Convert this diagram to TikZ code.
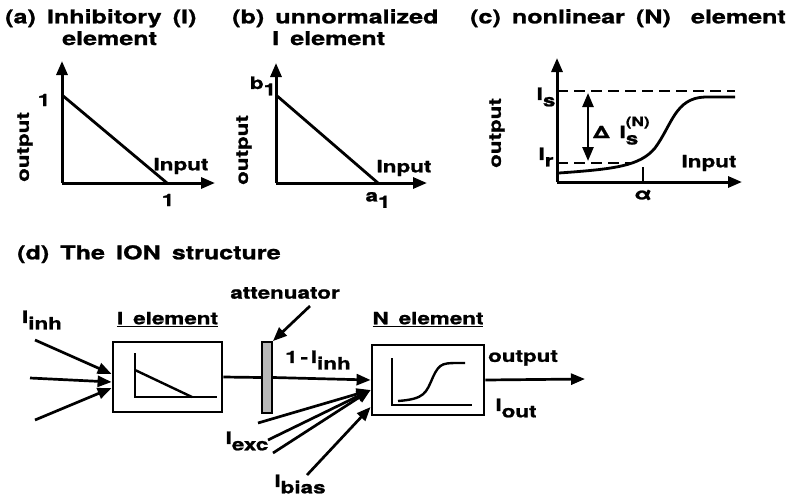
\documentclass[tikz,border=0pt]{standalone}
\usepackage{fontspec}
\setmainfont[FakeStretch=1.32,WordSpace=1.6,BoldFeatures={FakeBold=1.2}]{TeX Gyre Heros}
\usetikzlibrary{arrows.meta,positioning}

\newcommand{\lsub}[1]{\raisebox{-0.7ex}{#1}}

\tikzset{
  >={Triangle[length=14pt,width=11pt]},
  every node/.style={inner sep=0pt},
  ttl/.style={font=\bfseries\fontsize{19}{21}\selectfont, anchor=north west},
  lbl/.style={font=\bfseries\fontsize{17}{19}\selectfont},
  axis/.style={line width=3pt, ->},
  graph/.style={line width=2.8pt},
  guide/.style={line width=2.5pt, dash pattern=on 11pt off 6pt},
  wire/.style={line width=2.7pt, ->},
  elem/.style={draw, line width=2.8pt, minimum height=70pt},
  atten/.style={draw, line width=1.8pt, fill=gray!55, minimum width=10pt, minimum height=71pt},
}

\begin{document}
\begin{tikzpicture}[x=1pt, y=-1pt]
\useasboundingbox (0,0) rectangle (792,498);

    % (a) inhibitory element
    \node[ttl](titleA) at (5,9){(a) Inhibitory (I)};
    \node[ttl](titleA2) at (62,31){element};
    \draw[axis] (62,183) -- (62,61);
    \draw[axis] (62,183) -- (215,183);
    \draw[graph] (62,95) -- (167,183);
    \node[lbl](oneY) at (44,100){1};
    \node[lbl](oneX) at (168,200){1};
    \node[lbl](inA) at (181,166){Input};
    \node[lbl, rotate=90](outA) at (25,147){output};

    % (b) unnormalized element
    \node[ttl](titleB) at (232,9){(b) unnormalized};
    \node[ttl](titleB2) at (272,31){I element};
    \draw[axis] (276,183) -- (276,63);
    \draw[axis] (276,183) -- (427,183);
    \draw[graph] (276,95) -- (378,183);
    \node[lbl](bOne) at (263,86){b\lsub{1}};
    \node[lbl](aOne) at (378,200){a\lsub{1}};
    \node[lbl](inB) at (404,168){Input};
    \node[lbl, rotate=90](outB) at (244,150){output};

    % (c) nonlinear element
    \node[ttl](titleC) at (470,9){(c) nonlinear (N)\hspace{9pt} element};
    \draw[axis] (557,182) -- (557,58);
    \draw[axis] (557,182) -- (742,182);
    \draw[guide] (557,91) -- (735,91);
    \draw[guide] (557,163) -- (633,163);
    \draw[line width=2.5pt, <->] (588,93) -- (588,161);
    \draw[graph] (559,173) .. controls (615,169) and (640,166) .. (655,148)
        .. controls (672,125) and (675,98) .. (705,97) -- (735,97);
    \draw[graph] (643,182) -- (643,167);
    \node[lbl](alpha) at (643,195){α};
    \node[lbl](Is) at (546,97){I\lsub{s}};
    \node[lbl](Ir) at (546,157){I\lsub{r}};
    \node[lbl, anchor=base west](dIs) at (593,138){Δ I\rlap{\raisebox{1.3ex}{\fontsize{13}{13}\selectfont(N)}}\lsub{s}};
    \node[lbl](inC) at (709,163){Input};
    \node[lbl, rotate=90](outC) at (497,133){output};

    % (d) ION structure
    \node[ttl](titleD) at (17,245){(d) The ION structure};
    \node[elem, minimum width=109pt](Ielem) at (167.5,377){};
    \node[elem, minimum width=112pt](Nelem) at (428,380){};
    \node[lbl](IelemLbl)[above=14pt of Ielem]{\underline{I element}};
    \node[lbl](NelemLbl)[above=17pt of Nelem]{\underline{N element}};
    \draw[line width=2.4pt] (135,353) -- (135,397) -- (217,397);
    \draw[line width=2.4pt] (135,370) -- (192,397);
    \draw[line width=2.4pt] (392,358) -- (392,405) -- (472,405);
    \draw[line width=2.4pt] (398,401) .. controls (425,399) and (426,393) .. (433,377)
        .. controls (440,362) and (443,363) .. (465,363);

    % inhibitory inputs
    \coordinate (inh1) at (35,340);
    \coordinate (inh2) at (30,378);
    \coordinate (inh3) at (35,420);
    \draw[wire](inh1) -- ([yshift=3pt]Ielem.west);
    \draw[wire](inh2) -- ([yshift=-5pt]Ielem.west);
    \draw[wire](inh3) -- ([yshift=-11pt]Ielem.west);
    \node[lbl](inhLbl) at (42,320){I\lsub{inh}};

    % attenuator
    \node[atten](atten) at (267,377.5){};
    \draw[wire, -](Ielem.east) -- (atten.west);
    \draw[wire](atten.east) -- (Nelem.west);
    \node[lbl](attLbl) at (285,293){attenuator};
    \coordinate (attFrom) at (310,306);
    \draw[wire](attFrom) -- (atten.north east);
    \node[lbl](attOut) at (318,360){1\,-\,I\lsub{inh}};

    % excitatory and bias inputs
    \coordinate (exc1) at (258,423);
    \coordinate (exc2) at (268,440);
    \coordinate (exc3) at (273,453);
    \foreach \e in {exc1,exc2,exc3}
        \draw[wire](\e) -- ([yshift=-10pt]Nelem.west);
    \node[lbl](excLbl) at (247,441){I\lsub{exc}};
    \coordinate (biasFrom) at (307,475);
    \draw[wire](biasFrom) -- ([yshift=-27pt]Nelem.west);
    \node[lbl](biasLbl) at (300,484){I\lsub{bias}};

    % output
    \coordinate (outTip) at (585,379);
    \draw[wire](Nelem.east) -- (outTip);
    \node[lbl](outLbl) at (523,358){output};
    \node[lbl](IoutLbl) at (516,408){I\lsub{out}};

\end{tikzpicture}
\end{document}
